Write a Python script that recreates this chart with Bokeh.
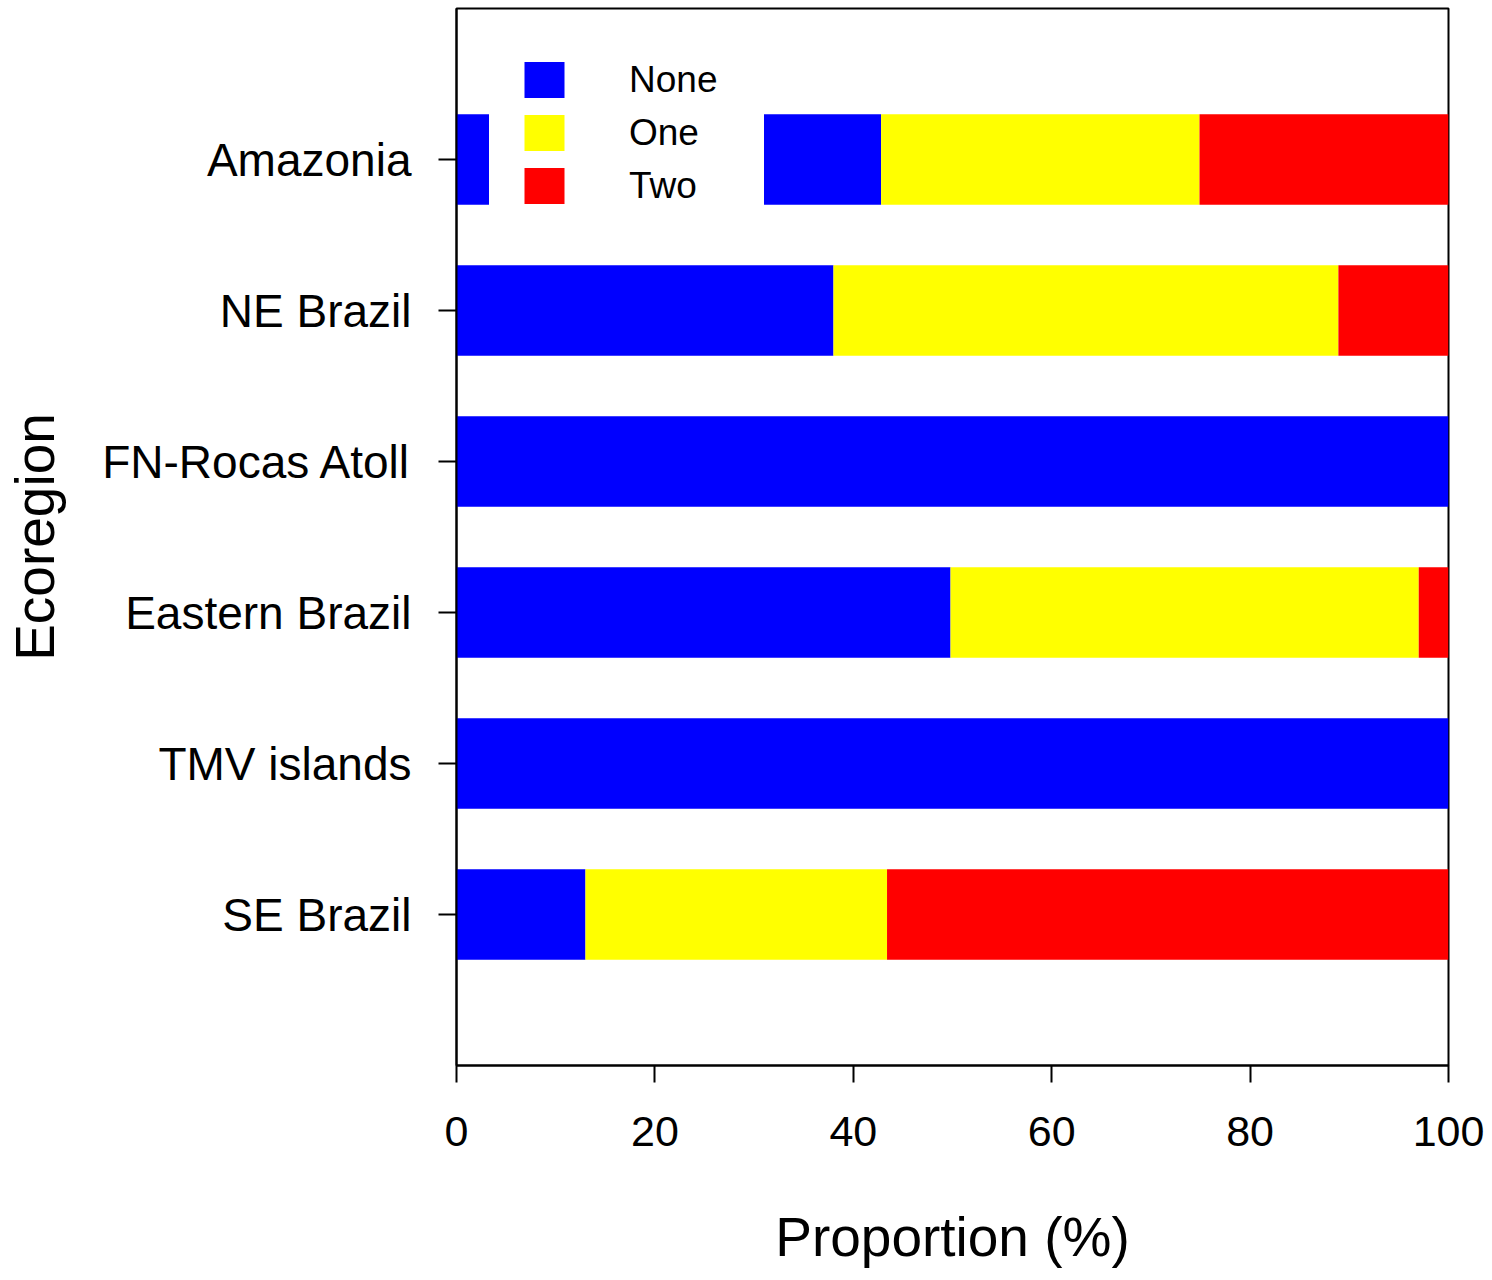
from bokeh.plotting import figure
from bokeh.models import Range1d, FactorRange, FixedTicker, ColumnDataSource
from bokeh.embed import file_html
from bokeh.resources import INLINE

regions = ["Amazonia", "NE Brazil", "FN-Rocas Atoll", "Eastern Brazil", "TMV islands", "SE Brazil"]
none_pct = [42.8, 38.0, 100.0, 49.8, 100.0, 13.0]
one_pct = [32.1, 50.9, 0.0, 47.2, 0.0, 30.4]
two_pct = [25.1, 11.1, 0.0, 3.0, 0.0, 56.6]
series = ["None", "One", "Two"]
colors = ["#0000FF", "#FFFF00", "#FF0000"]
x_ticks = [0, 20, 40, 60, 80, 100]

FONT = "Liberation Sans"

source = ColumnDataSource(dict(region=regions, none=none_pct, one=one_pct, two=two_pct))

p = figure(
    width=1492, height=1280,
    x_range=Range1d(0, 100),
    y_range=FactorRange(factors=regions[::-1], range_padding=0.5, range_padding_units="absolute"),
    output_backend="svg", toolbar_location=None,
    min_border_left=456, min_border_right=44, min_border_top=8, min_border_bottom=215,
)

p.hbar_stack(["none", "one", "two"], y="region", height=0.6, source=source,
             fill_color=colors, line_color=None, legend_label=series)

p.xgrid.visible = False
p.ygrid.visible = False
p.background_fill_color = "white"
p.border_fill_color = "white"
p.outline_line_color = "black"
p.outline_line_width = 2

xa = p.xaxis[0]
xa.ticker = FixedTicker(ticks=x_ticks)
xa.minor_tick_line_color = None
xa.major_tick_in = 0
xa.major_tick_out = 17
xa.major_tick_line_width = 2
xa.axis_line_width = 2
xa.major_label_text_font = FONT
xa.major_label_text_font_size = "43px"
xa.major_label_text_color = "black"
xa.major_label_standoff = 34
xa.axis_label = "Proportion (%)"
xa.axis_label_text_font = FONT
xa.axis_label_text_font_size = "55px"
xa.axis_label_text_font_style = "normal"
xa.axis_label_text_color = "black"
xa.axis_label_standoff = 57

ya = p.yaxis[0]
ya.major_tick_in = 0
ya.major_tick_out = 18
ya.major_tick_line_width = 2
ya.axis_line_width = 2
ya.major_label_text_font = FONT
ya.major_label_text_font_size = "46px"
ya.major_label_text_color = "black"
ya.major_label_standoff = 27
ya.axis_label = "Ecoregion"
ya.axis_label_text_font = FONT
ya.axis_label_text_font_size = "55px"
ya.axis_label_text_font_style = "normal"
ya.axis_label_text_color = "black"
ya.axis_label_standoff = 33

lg = p.legend[0]
lg.location = (33, 827)
lg.background_fill_color = "white"
lg.background_fill_alpha = 1.0
lg.border_line_color = "white"
lg.border_line_width = 1
lg.padding = 29
lg.spacing = 8
lg.glyph_width = 50
lg.glyph_height = 45
lg.label_standoff = 60
lg.label_width = 105
lg.label_text_font = FONT
lg.label_text_font_size = "37px"
lg.label_text_color = "black"
lg.margin = 0

open("out.html", "w").write(file_html(p, INLINE))
